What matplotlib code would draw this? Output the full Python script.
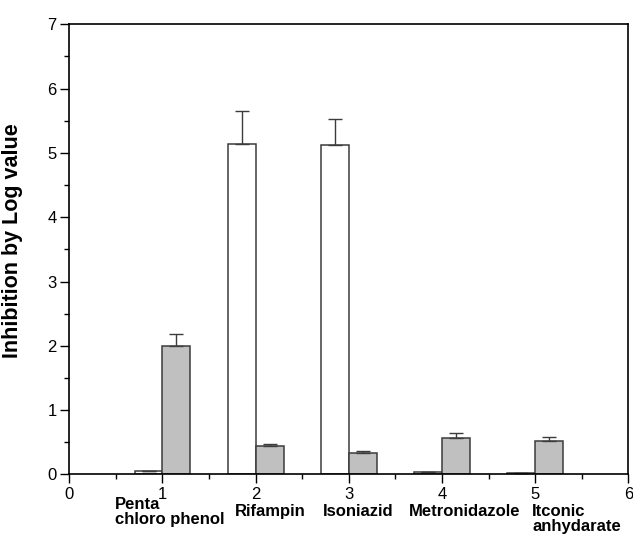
import matplotlib
matplotlib.use('Agg')
import matplotlib.pyplot as plt
import matplotlib.transforms as mtransforms
from matplotlib.ticker import MultipleLocator
import numpy as np

plt.rcParams['font.family'] = ['Liberation Sans', 'DejaVu Sans']

# data
positions = [1, 2, 3, 4, 5]
names = ['Penta\nchloro phenol', 'Rifampin', 'Isoniazid', 'Metronidazole', 'Itconic\nanhydarate']
white_vals = [0.05, 5.14, 5.13, 0.04, 0.03]
white_err = [0.0, 0.51, 0.39, 0.0, 0.0]
gray_vals = [2.0, 0.44, 0.34, 0.56, 0.52]
gray_err = [0.18, 0.04, 0.03, 0.08, 0.07]

# label placement (left edge in data units, top in axes fraction)
name_x = [0.49, 1.78, 2.72, 3.65, 4.97]
name_y = [-0.050, -0.065, -0.065, -0.065, -0.065]

fig = plt.figure(figsize=(6.33, 5.44), dpi=100)
ax = fig.add_axes([0.1095, 0.1278, 0.8831, 0.8275])

w = 0.3
pos = np.array(positions, dtype=float)
edge = '#3c3c3c'
ekw = dict(ecolor=edge, elinewidth=1.0, capsize=5, capthick=1.0)
ax.bar(pos, white_vals, width=-w, align='edge', color='white', edgecolor=edge, linewidth=1.1,
       yerr=[np.zeros(5), white_err], error_kw=ekw)
ax.bar(pos, gray_vals, width=w, align='edge', color='#c0c0c0', edgecolor=edge, linewidth=1.1,
       yerr=[np.zeros(5), gray_err], error_kw=ekw)

ax.set_xlim(0, 6)
ax.set_ylim(0, 7)
ax.xaxis.set_major_locator(MultipleLocator(1))
ax.xaxis.set_minor_locator(MultipleLocator(0.5))
ax.yaxis.set_major_locator(MultipleLocator(1))
ax.yaxis.set_minor_locator(MultipleLocator(0.5))
ax.tick_params(which='major', direction='out', length=6.5, width=1.0, labelsize=12, pad=2.5)
ax.tick_params(which='minor', direction='out', length=3.5, width=1.0)
for s in ax.spines.values():
    s.set_linewidth(1.2)

ax.set_ylabel('Inhibition by Log value', fontsize=15.5, fontweight='bold')
ax.yaxis.set_label_coords(-0.082, 0.52)

trans = mtransforms.blended_transform_factory(ax.transData, ax.transAxes)
for x, y, t in zip(name_x, name_y, names):
    ax.text(x, y, t, transform=trans, ha='left', va='top', fontsize=12, fontweight='bold',
            linespacing=1.0)

fig.savefig('out.png', dpi=100)
